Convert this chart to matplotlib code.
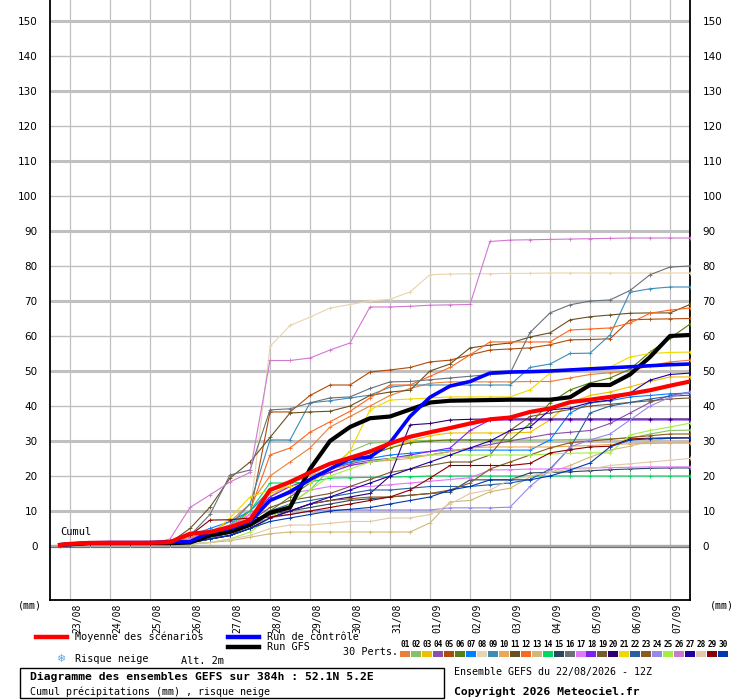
import numpy as np
import matplotlib.pyplot as plt
from matplotlib.lines import Line2D
from matplotlib.patches import Rectangle
import matplotlib.transforms as mtransforms

# forecast hours of each value (run 22/08 12Z)
hours = [6] + list(range(12, 385, 12))

day_labels = ['23/08', '24/08', '25/08', '26/08', '27/08', '28/08', '29/08', '30/08',
              '31/08', '01/09', '02/09', '03/09', '04/09', '05/09', '06/09', '07/09']
day_hours = list(range(12, 373, 24))

mean_run = [0.3, 0.6, 0.9, 0.9, 0.9, 0.9, 1.1, 3.5,
            4.0, 5.4, 7.4, 16.0, 18.3, 21.0, 23.5, 25.2,
            27.0, 29.3, 31.2, 32.5, 33.7, 35.0, 36.2, 36.7,
            38.3, 39.3, 41.1, 41.8, 42.6, 43.5, 44.5, 45.8, 47.0]
control_run = [0.3, 0.5, 0.9, 1.0, 1.0, 1.0, 1.2, 1.2,
               4.0, 5.0, 7.0, 13.0, 15.4, 19.0, 22.0, 25.0,
               25.4, 29.5, 37.0, 42.5, 45.7, 47.0, 49.4, 49.7,
               49.8, 50.0, 50.3, 50.6, 50.9, 51.2, 51.5, 51.8, 52.0]
gfs_run = [0.3, 0.5, 0.8, 0.8, 0.8, 0.8, 0.8, 1.0,
           3.0, 4.0, 6.0, 9.5, 11.0, 22.0, 30.0, 34.0,
           36.5, 37.0, 39.0, 41.0, 41.5, 41.6, 41.7, 41.8,
           41.8, 41.8, 42.5, 46.0, 46.0, 49.0, 54.0, 60.0, 60.3]

perts = {
    '01': [0.2, 0.4, 0.8, 0.8, 0.8, 0.8, 1.0, 2.5, 4, 7, 12, 20, 24, 28, 34, 37,
           40, 43, 45, 46.5, 46.9, 46.9, 46.9, 46.9, 47, 47, 48, 49, 49.5, 50, 51.5, 52.6, 53.1],
    '02': [0.2, 0.3, 0.5, 0.5, 0.5, 0.5, 0.6, 1.0, 2, 3, 5, 8, 12, 16, 22, 27,
           29.4, 29.7, 30, 30.2, 30.3, 30.3, 30.3, 30.3, 30.3, 30.3, 30.4, 30.5, 30.6, 30.8, 32, 33, 33.1],
    '03': [0.2, 0.3, 0.5, 0.5, 0.5, 0.6, 0.8, 1.5, 3, 6, 10, 15, 17, 19, 21, 23,
           26, 28, 30, 31.5, 32.3, 32.3, 32.3, 32.3, 32.5, 36, 41, 43, 44, 45.5, 47, 48.3, 48.3],
    '04': [0.2, 0.3, 0.6, 0.6, 0.6, 0.6, 0.7, 1.5, 3, 5, 8, 13, 16, 19, 22, 23.5,
           24.5, 25, 25.5, 26, 27, 28, 29, 30, 31, 32, 32.5, 33, 35, 38, 41, 43, 44],
    '05': [0.2, 0.3, 0.6, 0.6, 0.6, 0.7, 1.0, 2, 3, 5, 9, 38.3, 38.3, 43, 46, 46,
           49.7, 50.3, 51, 52.6, 53.1, 54.6, 56, 56.3, 56.6, 57.5, 58.9, 59, 59.2, 64.6, 64.8, 64.9, 65],
    '06': [0.2, 0.3, 0.5, 0.5, 0.5, 0.5, 0.6, 1.0, 2, 3, 6, 10, 14, 18, 22, 24,
           26, 28, 29.5, 30, 30.3, 30.3, 30.3, 30.3, 35, 40.9, 44.6, 46.6, 48, 50.5, 55.4, 59.4, 63.4],
    '07': [0.2, 0.4, 0.8, 0.8, 0.8, 0.8, 1.0, 3, 5, 7, 10, 16, 18, 20, 22, 24,
           25, 26, 26.5, 27, 27.4, 27.4, 27.4, 27.4, 27.4, 30.3, 38, 40.9, 41.5, 42.6, 43, 43.5, 43.7],
    '08': [0.2, 0.3, 0.6, 0.6, 0.6, 0.7, 0.8, 1.5, 3, 5, 9, 57, 63, 65.4, 68, 69,
           70, 70.5, 72.6, 77.5, 77.7, 77.8, 77.8, 77.9, 77.9, 78, 78, 78, 78, 78, 78, 78, 78],
    '09': [0.2, 0.4, 0.8, 0.8, 0.8, 0.8, 1.0, 2, 4, 6, 12, 30.3, 30.3, 40.9, 41.5, 42.3,
           43.1, 45.4, 46, 46, 46, 46, 46, 46, 51, 52, 55, 55.1, 60.3, 72.5, 73.5, 74, 74],
    '10': [0.2, 0.3, 0.5, 0.5, 0.5, 0.5, 0.6, 1.0, 2, 4, 8, 14, 18, 20, 22, 23,
           24, 24.5, 25, 26, 27, 28, 28.3, 28.3, 28.3, 28.3, 28.5, 28.7, 29, 29.2, 29.3, 29.4, 29.4],
    '11': [0.2, 0.3, 0.6, 0.6, 0.6, 0.7, 1.0, 5, 11.1, 19.4, 24, 31, 38, 38.3, 38.5, 40,
           43, 44, 44.5, 50, 52, 56.6, 57.4, 58, 59.7, 60.9, 64.6, 65.5, 66, 66.5, 66.6, 66.6, 69],
    '12': [0.2, 0.3, 0.6, 0.6, 0.6, 0.7, 1.0, 2, 4, 5, 10, 26, 28, 32.5, 35.5, 38.5,
           42.3, 46, 46, 48.5, 51, 54.6, 58.3, 58.3, 58.3, 58.3, 61.7, 62, 62.3, 63.7, 66.5, 67.4, 68],
    '13': [0.1, 0.2, 0.3, 0.3, 0.3, 0.3, 0.4, 0.6, 1.0, 1.5, 2.5, 3.5, 4, 4, 4, 4,
           4, 4, 4, 6.6, 12.6, 13, 15.5, 16.5, 19.7, 21, 23, 25.4, 27.4, 28.5, 30, 30.8, 31],
    '14': [0.2, 0.3, 0.5, 0.5, 0.5, 0.5, 0.6, 1.0, 3, 6, 10, 18, 18, 18.3, 19.4, 19.5,
           19.6, 19.7, 19.8, 20, 20, 20, 20, 20, 20, 20, 20, 20, 20, 20, 20, 20, 20],
    '15': [0.2, 0.3, 0.6, 0.6, 0.6, 0.6, 0.8, 1.5, 3, 5, 7, 9, 10, 11, 12, 13,
           13.5, 14, 14.5, 15, 15.4, 18.9, 18.9, 18.9, 20.9, 21, 21.2, 21.5, 21.8, 22, 22.2, 22.3, 22.3],
    '16': [0.2, 0.4, 0.8, 0.8, 0.8, 0.8, 1.0, 3, 9, 20.3, 21.7, 38.9, 39.2, 40.9, 42.3, 42.6,
           45, 46.9, 47, 47.5, 48, 48.5, 49, 49.3, 61, 66.6, 68.9, 70, 70.3, 73, 77.5, 79.7, 80],
    '17': [0.2, 0.3, 0.6, 0.6, 0.6, 0.6, 0.8, 2, 4, 6, 9, 13, 15, 16, 17, 17,
           17, 17.5, 18, 18.5, 19, 19.5, 21.7, 21.8, 22, 22, 22.2, 22.3, 22.4, 22.5, 22.6, 22.6, 22.6],
    '18': [0.2, 0.3, 0.6, 0.6, 0.6, 0.6, 0.8, 1.5, 3, 5, 8, 14, 17, 19, 21, 23,
           24, 25, 26, 27, 28, 33, 36, 36, 36, 36, 36, 36, 36, 36, 36, 36, 36],
    '19': [0.2, 0.3, 0.5, 0.5, 0.5, 0.5, 0.6, 1.0, 2, 4, 7, 11, 13, 14, 15, 17,
           19, 21, 22, 23, 24, 24, 26, 33, 37, 38, 39, 40, 40.5, 41, 41.5, 42, 42.3],
    '20': [0.2, 0.3, 0.5, 0.5, 0.5, 0.5, 0.6, 1.0, 2, 3, 5, 8, 10, 12, 13, 14,
           15, 20, 34.6, 35, 36, 36.2, 36.3, 36.3, 36.3, 36.3, 36.3, 36.3, 36.3, 36.3, 36.3, 36.3, 36.3],
    '21': [0.2, 0.3, 0.5, 0.5, 0.5, 0.5, 0.6, 1.0, 3, 8, 14, 16, 17, 18, 22, 27,
           38.9, 41.7, 42, 42.3, 42.6, 42.6, 42.6, 42.6, 44.6, 49.4, 50.5, 51, 51.1, 54, 55, 55.3, 55.4],
    '22': [0.2, 0.3, 0.5, 0.5, 0.5, 0.5, 0.6, 1.0, 2, 4, 6, 10, 12, 13, 14, 15,
           16, 16, 16.5, 17, 17, 17, 17.5, 18, 19, 22, 28, 38, 40, 41, 42, 42.8, 43.1],
    '23': [0.2, 0.3, 0.5, 0.5, 0.5, 0.5, 0.6, 1.0, 2, 3, 5, 8, 10, 12, 13, 13.5,
           14, 14, 14.5, 15, 16, 18, 22, 24, 26, 28, 29.5, 30, 30.5, 31, 31.5, 32, 32],
    '24': [0.1, 0.2, 0.3, 0.3, 0.3, 0.4, 0.5, 0.8, 2, 4, 6, 8, 9, 10, 10.3, 10.3,
           10.3, 10.3, 10.3, 10.3, 10.9, 10.9, 10.9, 11.1, 17, 21.7, 28.3, 30.3, 32, 36, 40, 42.5, 44],
    '25': [0.1, 0.2, 0.3, 0.3, 0.3, 0.3, 0.4, 0.5, 1, 2, 4, 8, 12, 16, 20, 22,
           24, 25, 25.5, 26, 26, 26, 26, 26, 26, 26.3, 26.5, 26.6, 26.6, 31.7, 33, 34, 35.1],
    '26': [0.2, 0.3, 0.6, 0.6, 0.6, 0.6, 2, 11, 14.6, 18.3, 21, 53, 53, 53.7, 56, 58,
           68.3, 68.3, 68.5, 68.8, 68.9, 69, 87, 87.4, 87.5, 87.6, 87.7, 87.8, 87.9, 88, 88, 88, 88],
    '27': [0.2, 0.3, 0.5, 0.5, 0.5, 0.5, 0.6, 1.0, 2, 3, 5, 8, 10, 12, 14, 16,
           18, 20, 22, 24, 26, 28, 30, 33, 34, 38.9, 39.4, 41, 41.7, 43.7, 47.4, 49, 49.4],
    '28': [0.1, 0.2, 0.3, 0.3, 0.3, 0.3, 0.4, 0.6, 1, 2, 3, 5, 6, 6, 6.5, 7,
           7, 8, 8, 9, 12, 15, 16, 18.9, 20, 21, 22, 22, 23, 23.5, 24, 24.5, 25],
    '29': [0.2, 0.4, 0.8, 0.8, 0.8, 1.0, 1.5, 3, 7.4, 7.5, 8, 8.3, 9, 10, 11, 12,
           13, 14, 16, 19.4, 23, 23, 23, 23, 23.6, 26.6, 27.5, 28.3, 28.5, 30.6, 30.8, 30.9, 30.9],
    '30': [0.2, 0.3, 0.5, 0.5, 0.5, 0.5, 0.6, 1.0, 2, 3, 5, 7, 8, 9, 10, 10.5,
           11, 12, 13, 14, 16, 17, 18.9, 18.9, 18.9, 20, 21.7, 23.7, 28.3, 30.3, 30.6, 30.8, 30.9],
}

pert_colors = ['#e8803a', '#88c068', '#f0c000', '#8850a8', '#b04a0a', '#588010',
               '#0080ff', '#e8d4b0', '#3c8cb8', '#e8a858', '#685020', '#f86820',
               '#d0b878', '#00d860', '#284860', '#687078', '#e078f8', '#8020f0',
               '#785830', '#300070', '#f0d800', '#2860a0', '#8c5a20', '#9888e8',
               '#a0f040', '#d078d0', '#2000a0', '#e0c8a8', '#880000', '#0038b0']

W, H = 740, 700
fig = plt.figure(figsize=(W / 100, H / 100), dpi=100)
fig.patch.set_facecolor('white')


def fx(x):
    return x / W


def fy(y):
    return 1 - y / H


ax = fig.add_axes([fx(50), fy(600), 640 / W, 600 / H])
ax.set_xlim(0, 384)
ax.set_ylim(-15.43, 156)

# grid
for h in day_hours:
    ax.axvline(h, color='#c0c0c0', lw=0.9, zorder=1)
for v in range(10, 151, 10):
    thick = (v // 10) % 2 == 1
    ax.axhline(v, color='#c0c0c0', lw=2.2 if thick else 1.0, zorder=1)
ax.axhline(0, color='#a8a8a8', lw=2.4, zorder=1)
ax.axhline(-0.3, color='#707070', lw=0.7, zorder=1)

for (name, vals), c in zip(perts.items(), pert_colors):
    ax.plot(hours, vals, color=c, lw=0.8, marker='+', ms=3, mew=0.6, zorder=3)

ax.plot(hours, gfs_run, color='black', lw=3.0, zorder=5)
ax.plot(hours, control_run, color='#0000ff', lw=2.6, zorder=6)
ax.plot(hours, mean_run, color='#ff0000', lw=3.0, zorder=7)

ax.text(6, 3.0, 'Cumul', fontsize=7.5, family='DejaVu Sans Mono', zorder=8)

for s in ['top']:
    ax.spines[s].set_visible(False)
for s in ['left', 'right', 'bottom']:
    ax.spines[s].set_linewidth(1.3)
    ax.spines[s].set_color('black')

ax.set_xticks([])
ax.set_yticks(range(0, 151, 10))
ax.tick_params(axis='y', length=0, labelsize=7.5, labelleft=True, labelright=True)
ax.tick_params(axis='y', which='both', pad=9)
for lab in ax.get_yticklabels():
    lab.set_family('DejaVu Sans')
for lab in ax.yaxis.get_ticklabels(which='major'):
    pass
ax.yaxis.set_tick_params(labelright=True)
for t in ax.yaxis.get_major_ticks():
    t.label2.set_fontsize(7.5)
    t.set_pad(9)
trans = mtransforms.blended_transform_factory(ax.transData, ax.transAxes)
for h, lab in zip(day_hours, day_labels):
    ax.text(h + 4.2, -0.006, lab, rotation=90, ha='center', va='top', transform=trans,
            fontsize=7, family='DejaVu Sans Mono')

fig.text(fx(30), fy(606), '(mm)', ha='center', va='center', fontsize=7.2, family='DejaVu Sans Mono')
fig.text(fx(722), fy(606), '(mm)', ha='center', va='center', fontsize=7.2, family='DejaVu Sans Mono')

mono = 'DejaVu Sans Mono'
# legend
fig.add_artist(Line2D([fx(36), fx(67)], [fy(637), fy(637)], color='#ff0000', lw=3.2))
fig.text(fx(75), fy(637), 'Moyenne des scénarios', va='center', fontsize=7.3, family=mono)
fig.add_artist(Line2D([fx(228), fx(259)], [fy(637), fy(637)], color='#0000ff', lw=3.2))
fig.text(fx(267), fy(637), 'Run de contrôle', va='center', fontsize=7.3, family=mono)
fig.add_artist(Line2D([fx(228), fx(259)], [fy(647), fy(647)], color='black', lw=3.2))
fig.text(fx(267), fy(647), 'Run GFS', va='center', fontsize=7.3, family=mono)
fig.text(fx(61), fy(659), '❄', ha='center', va='center', fontsize=8, color='#5aa8f0', family='DejaVu Sans')
fig.text(fx(75), fy(659), 'Risque neige', va='center', fontsize=7.3, family=mono)
fig.text(fx(181), fy(661), 'Alt. 2m', va='center', fontsize=7.3, family=mono)
fig.text(fx(343), fy(652), '30 Perts.', va='center', fontsize=7.3, family=mono)

for i, c in enumerate(pert_colors):
    x0 = 400 + i * 10.97
    fig.add_artist(Rectangle((fx(x0), fy(657)), 10 / W, 6 / H, transform=fig.transFigure,
                             facecolor=c, edgecolor='none'))
    fig.text(fx(x0 + 5), fy(644.5), '%02d' % (i + 1), ha='center', va='center',
             fontsize=5.6, family=mono, fontweight='bold')

fig.add_artist(Rectangle((fx(20), fy(698)), 424 / W, 30 / H, transform=fig.transFigure,
                         facecolor='none', edgecolor='black', lw=1.0))
fig.text(fx(30), fy(677), 'Diagramme des ensembles GEFS sur 384h : 52.1N 5.2E', va='center',
         fontsize=8.2, family=mono, fontweight='bold')
fig.text(fx(30), fy(692), 'Cumul précipitations (mm) , risque neige', va='center',
         fontsize=7.2, family=mono)
fig.text(fx(454), fy(672), 'Ensemble GEFS du 22/08/2026 - 12Z', va='center', fontsize=7.2, family=mono)
fig.text(fx(454), fy(692), 'Copyright 2026 Meteociel.fr', va='center', fontsize=8.2,
         family=mono, fontweight='bold')

fig.savefig('out.png', dpi=100)
